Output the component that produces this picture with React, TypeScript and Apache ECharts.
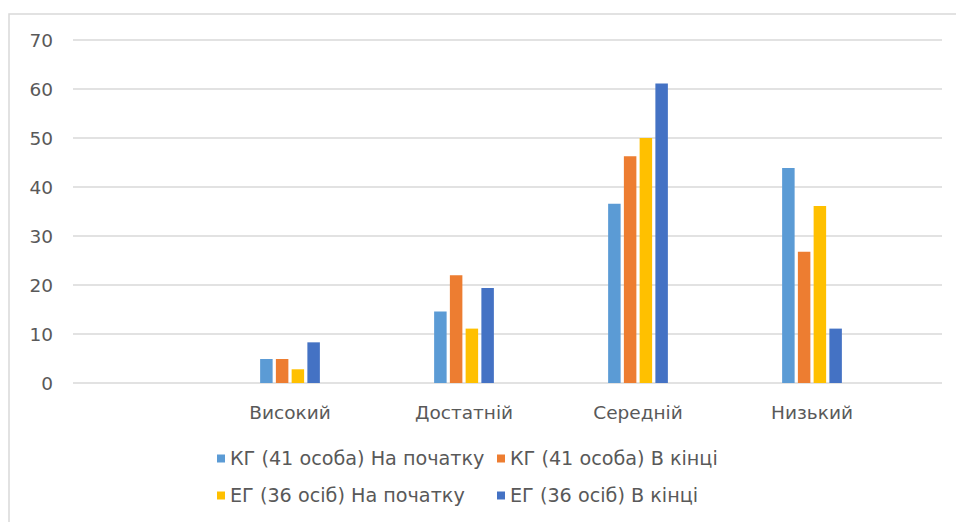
import React, { useEffect, useRef } from "react";
import * as echarts from "echarts";

const categories = ["Високий", "Достатній", "Середній", "Низький"];
const seriesNames = [
  "КГ (41 особа) На початку",
  "КГ (41 особа) В кінці",
  "ЕГ (36 осіб) На початку",
  "ЕГ (36 осіб) В кінці",
];
const kgStart = [4.9, 14.6, 36.6, 43.9];
const kgEnd = [4.9, 22.0, 46.3, 26.8];
const egStart = [2.8, 11.1, 50.0, 36.1];
const egEnd = [8.3, 19.4, 61.1, 11.1];
const colors = ["#5B9BD5", "#ED7D31", "#FFC000", "#4472C4"];

const FONT = "DejaVu Sans";
const GRAY = "#595959";
const FS = 18.5;
const LFS = 19.2;

export default function App() {
  const ref = useRef<HTMLDivElement>(null);
  useEffect(() => {
    if (!ref.current) return;
    const chart = echarts.init(ref.current, undefined, { renderer: "svg" });
    const values = [kgStart, kgEnd, egStart, egEnd];
    const legendPos = [
      { left: 217, top: 449 },
      { left: 497, top: 449 },
      { left: 217, top: 486 },
      { left: 497, top: 486 },
    ];
    chart.setOption({
      animation: false,
      backgroundColor: "#ffffff",
      textStyle: { fontFamily: FONT },
      grid: [
        { left: 73, right: 14, top: 40, bottom: 139 },
        { left: 203, right: 57, top: 40, bottom: 139 },
      ],
      xAxis: [
        { gridIndex: 0, type: "value", show: false, min: 0, max: 1 },
        {
          gridIndex: 1,
          type: "category",
          data: categories,
          axisLine: { show: false },
          axisTick: { show: false },
          axisLabel: { color: GRAY, fontSize: FS, margin: 20, fontFamily: FONT },
        },
      ],
      yAxis: [
        {
          gridIndex: 0,
          type: "value",
          min: 0,
          max: 70,
          interval: 10,
          axisLine: { show: false },
          axisTick: { show: false },
          axisLabel: { color: GRAY, fontSize: FS, margin: 20, fontFamily: FONT },
          splitLine: { lineStyle: { color: "#d9d9d9", width: 1.5 } },
        },
        {
          gridIndex: 1,
          type: "value",
          min: 0,
          max: 70,
          interval: 10,
          show: false,
        },
      ],
      legend: seriesNames.map((n, i) => ({
        data: [n],
        left: legendPos[i].left,
        top: legendPos[i].top,
        icon: "rect",
        itemWidth: 8,
        itemHeight: 8,
        padding: 0,
        textStyle: { color: GRAY, fontSize: LFS, fontFamily: FONT },
      })),
      graphic: [
        {
          type: "rect",
          shape: { x: 9, y: 14, width: 980, height: 540 },
          style: { fill: "none", stroke: "#d9d9d9", lineWidth: 1.5 },
          silent: true,
        },
      ],
      series: seriesNames.map((n, i) => ({
        name: n,
        type: "bar",
        xAxisIndex: 1,
        yAxisIndex: 1,
        data: values[i],
        barWidth: 12.5,
        barGap: "26%",
        itemStyle: { color: colors[i] },
      })),
    });
    return () => chart.dispose();
  }, []);
  return (
    <div
      ref={ref}
      style={{ position: "fixed", left: 0, top: 0, width: 956, height: 522 }}
    />
  );
}
